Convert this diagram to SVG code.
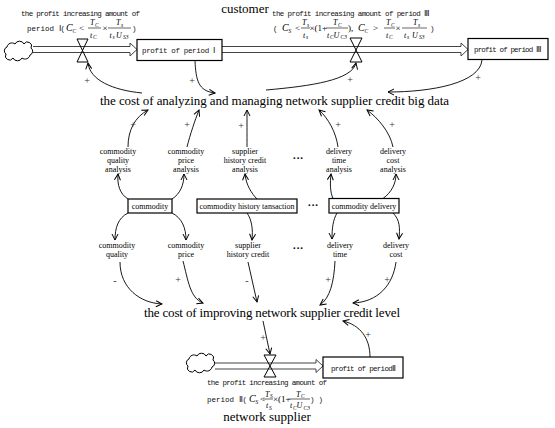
<svg xmlns="http://www.w3.org/2000/svg" width="555" height="428" viewBox="0 0 555 428">
<style>
.big{font-family:"Liberation Serif",serif;font-size:13px;fill:#000}
.lab{font-family:"Liberation Serif",serif;font-size:8px;fill:#000;text-anchor:middle}
.mono{font-family:"Liberation Mono","DejaVu Sans Mono",monospace;font-size:7.5px;fill:#111}
.mi{font-family:"Liberation Serif",serif;font-style:italic;font-size:10px;fill:#000}
.mf{font-family:"Liberation Serif",serif;font-style:italic;font-size:8px;fill:#000}
.ms{font-family:"Liberation Serif",serif;font-style:italic;font-size:5.5px;fill:#000}
.mo{font-family:"Liberation Serif",serif;font-size:9px;fill:#000}
.sign{font-family:"Liberation Serif",serif;font-size:10px;fill:#333;text-anchor:middle}
.dots{font-family:"Liberation Serif",serif;font-size:11px;font-weight:bold;fill:#000;text-anchor:middle}
.box{fill:#fff;stroke:#000;stroke-width:1.2}
.pipe{fill:none;stroke:#444;stroke-width:1}
.valve{fill:none;stroke:#000;stroke-width:1}
.cloud{fill:#fff;stroke:#000;stroke-width:1}
.bar{stroke:#000;stroke-width:0.6}
.conn path{fill:none;stroke:#000;stroke-width:0.9;marker-end:url(#ah)}
</style>
<defs>
<marker id="ah" markerWidth="8" markerHeight="8" refX="7" refY="4" orient="auto" markerUnits="userSpaceOnUse">
<path d="M1,1 L7,4 L1,7" fill="none" stroke="#000" stroke-width="1"/>
</marker>
<path id="cloudshape" d="M6,54 a4,4 0 0 1 1,-7 a5,5 0 0 1 8,-3 a5,5 0 0 1 9,0 a4,4 0 0 1 7,4 a4,4 0 0 1 -1,7 a5,5 0 0 1 -8,3 a5,5 0 0 1 -9,0 a4,4 0 0 1 -7,-4 z"/>
</defs>
<rect width="555" height="428" fill="#fff"/>

<g id="pipes">
<path class="pipe" d="M33,46.5 H130 M33,52.5 H130 M130,46.5 V43 L137,49.5 L130,56 V52.5"/>
<path class="pipe" d="M222,46.5 H461 M222,52.5 H461 M461,46.5 V43 L468,49.5 L461,56 V52.5"/>
<path class="pipe" d="M215,363 H316 M215,369 H316 M316,363 V359.5 L323,366 L316,372.5 V369"/>
</g>

<g id="cloud-top"><use href="#cloudshape" class="cloud"/></g>
<g id="cloud-bottom"><use href="#cloudshape" class="cloud" transform="translate(182,312)"/></g>

<g id="valve-1"><path class="valve" d="M77,39 H88 L82.5,50.5 Z M77,62 H88 L82.5,50.5 Z"/></g>
<g id="valve-3"><path class="valve" d="M350,38 H362 L356,50 Z M350,62 H362 L356,50 Z"/></g>
<g id="valve-2"><path class="valve" d="M264,355 H276 L270,366 Z M264,377 H276 L270,366 Z"/></g>

<g id="box-period1"><rect class="box" x="137" y="39.5" width="85" height="21"/><text class="mono" x="142" y="53" textLength="73">profit of period Ⅰ</text></g>
<g id="box-period3"><rect class="box" x="468" y="38.5" width="80" height="21"/><text class="mono" x="474" y="52" textLength="68">profit of period Ⅲ</text></g>
<g id="box-period2"><rect class="box" x="323" y="357" width="80" height="21"/><text class="mono" x="331" y="370.5" textLength="65">profit of periodⅡ</text></g>

<g id="customer"><text class="big" x="245" y="13" text-anchor="middle" font-size="12.5">customer</text></g>
<g id="network-supplier"><text class="big" x="267" y="421" text-anchor="middle" font-size="12">network supplier</text></g>

<g id="cost-analyzing"><text class="big" x="100" y="105" textLength="349">the cost of analyzing and managing network supplier credit big data</text></g>
<g id="cost-improving"><text class="big" x="144" y="317" textLength="256">the cost of improving network supplier credit level</text></g>

<g id="formula-1">
<text class="mono" x="21" y="16" textLength="119">the profit increasing amount of</text>
<text class="mono" x="27" y="31" textLength="38">period Ⅰ(</text>
<text class="mi" x="66" y="31">C</text><text class="ms" x="72.5" y="33">C</text>
<text class="mo" x="79" y="31">&lt;</text>
<text class="mf" x="90" y="25">T</text><text class="ms" x="95" y="26.5">C</text>
<line class="bar" x1="88" y1="28" x2="101" y2="28"/>
<text class="mf" x="90" y="37.5">t</text><text class="ms" x="93" y="39">C</text>
<text class="mo" x="102.5" y="31" font-size="8">×</text>
<text class="mf" x="116" y="25">T</text><text class="ms" x="121" y="26.5">s</text>
<line class="bar" x1="108" y1="28" x2="131" y2="28"/>
<text class="mf" x="109.5" y="37.5">t</text><text class="ms" x="112.5" y="39">s</text><text class="mf" x="116" y="37.5">U</text><text class="ms" x="123" y="39">S3</text>
<text class="mono" x="132" y="31">)</text>
</g>

<g id="formula-3">
<text class="mono" x="272" y="16" textLength="158">the profit increasing amount of period Ⅲ</text>
<text class="mono" x="273" y="31">(</text>
<text class="mi" x="282" y="31">C</text><text class="ms" x="288.5" y="33">S</text>
<text class="mo" x="295" y="31">&lt;</text>
<text class="mf" x="302" y="25">T</text><text class="ms" x="307" y="26.5">s</text>
<line class="bar" x1="301" y1="28" x2="310" y2="28"/>
<text class="mf" x="303" y="37.5">t</text><text class="ms" x="306" y="39">s</text>
<text class="mo" x="309.5" y="31">×(1+</text>
<text class="mf" x="333" y="25">T</text><text class="ms" x="338" y="26.5">C</text>
<line class="bar" x1="326" y1="28" x2="348" y2="28"/>
<text class="mf" x="327" y="37.5">t</text><text class="ms" x="330" y="39">C</text><text class="mf" x="333.5" y="37.5">U</text><text class="ms" x="340.5" y="39">C3</text>
<text class="mo" x="348" y="31">),</text>
<text class="mi" x="358" y="31">C</text><text class="ms" x="364.5" y="33">C</text>
<text class="mo" x="373" y="31">&gt;</text>
<text class="mf" x="386" y="25">T</text><text class="ms" x="391" y="26.5">C</text>
<line class="bar" x1="384" y1="28" x2="395" y2="28"/>
<text class="mf" x="386" y="37.5">t</text><text class="ms" x="389" y="39">C</text>
<text class="mo" x="395.5" y="31" font-size="8">×</text>
<text class="mf" x="413" y="25">T</text><text class="ms" x="418" y="26.5">s</text>
<line class="bar" x1="402" y1="28" x2="427" y2="28"/>
<text class="mf" x="404" y="37.5">t</text><text class="ms" x="407" y="39">s</text><text class="mf" x="412" y="37.5">U</text><text class="ms" x="419" y="39">S3</text>
<text class="mono" x="430" y="31">)</text>
</g>

<g id="formula-2">
<text class="mono" x="207" y="385" textLength="120">the profit increasing amount of</text>
<text class="mono" x="207" y="402" textLength="40">period Ⅱ(</text>
<text class="mi" x="249" y="402">C</text><text class="ms" x="255.5" y="404">S</text>
<text class="mo" x="260" y="402">&lt;</text>
<text class="mf" x="265" y="396.5">T</text><text class="ms" x="270" y="398">S</text>
<line class="bar" x1="263" y1="399" x2="273" y2="399"/>
<text class="mf" x="266" y="408">t</text><text class="ms" x="269" y="409.5">S</text>
<text class="mo" x="273" y="402">×(1+</text>
<text class="mf" x="296" y="396.5">T</text><text class="ms" x="301" y="398">C</text>
<line class="bar" x1="289" y1="399" x2="310" y2="399"/>
<text class="mf" x="290" y="408">t</text><text class="ms" x="293" y="409.5">C</text><text class="mf" x="296.5" y="408">U</text><text class="ms" x="303.5" y="409.5">C3</text>
<text class="mono" x="310" y="402" textLength="13">))</text>
</g>

<g id="commodity-quality-analysis"><text class="lab" x="118" y="154">commodity</text><text class="lab" x="118" y="163">quality</text><text class="lab" x="118" y="172">analysis</text></g>
<g id="commodity-price-analysis"><text class="lab" x="186" y="154">commodity</text><text class="lab" x="186" y="163">price</text><text class="lab" x="186" y="172">analysis</text></g>
<g id="supplier-history-credit-analysis"><text class="lab" x="245" y="154">supplier</text><text class="lab" x="245" y="163">history credit</text><text class="lab" x="245" y="172">analysis</text></g>
<g id="dots-1"><text class="dots" x="298" y="162">···</text></g>
<g id="delivery-time-analysis"><text class="lab" x="339" y="154">delivery</text><text class="lab" x="339" y="163">time</text><text class="lab" x="339" y="172">analysis</text></g>
<g id="delivery-cost-analysis"><text class="lab" x="393" y="154">delivery</text><text class="lab" x="393" y="163">cost</text><text class="lab" x="393" y="172">analysis</text></g>

<g id="box-commodity"><rect class="box" x="128" y="199" width="44" height="14"/><text class="lab" x="150" y="209">commodity</text></g>
<g id="box-history"><rect class="box" x="197" y="199" width="100" height="14"/><text class="lab" x="247" y="209">commodity history tansaction</text></g>
<g id="dots-2"><text class="dots" x="313" y="209">···</text></g>
<g id="box-delivery"><rect class="box" x="329" y="198.5" width="70" height="14.5"/><text class="lab" x="364" y="209">commodity delivery</text></g>

<g id="commodity-quality"><text class="lab" x="117" y="248">commodity</text><text class="lab" x="117" y="257">quality</text></g>
<g id="commodity-price"><text class="lab" x="186" y="248">commodity</text><text class="lab" x="186" y="257">price</text></g>
<g id="supplier-history-credit"><text class="lab" x="248" y="248">supplier</text><text class="lab" x="248" y="257">history credit</text></g>
<g id="dots-3"><text class="dots" x="298" y="252">···</text></g>
<g id="delivery-time"><text class="lab" x="340" y="248">delivery</text><text class="lab" x="340" y="257">time</text></g>
<g id="delivery-cost"><text class="lab" x="396" y="248">delivery</text><text class="lab" x="396" y="257">cost</text></g>

<g id="connectors" class="conn">
<path d="M142,93 C112,90 90,80 88,63"/>
<path d="M195,61 C196,80 198,91 215,93"/>
<path d="M266,90 C312,86 352,80 356,63"/>
<path d="M482,60 C480,83 432,92 388,92"/>
<path d="M128,147 C128,130 135,117 148,110"/>
<path d="M187,147 C190,135 195,120 199,110"/>
<path d="M247,147 C247,135 247,120 247,110"/>
<path d="M338,147 C336,132 328,118 319,110"/>
<path d="M393,147 C390,132 378,118 367,110"/>
<path d="M128,199 C120,194 117,185 118,174"/>
<path d="M172,199 C180,194 184,185 184,174"/>
<path d="M257,199 C252,194 246,185 245,174"/>
<path d="M333,198.5 C330,192 330,183 331,174"/>
<path d="M383,198.5 C392,192 396,183 396,174"/>
<path d="M128,213 C118,218 115,228 115,240"/>
<path d="M172,213 C182,218 186,228 186,240"/>
<path d="M247,213 C252,220 253,230 252,240"/>
<path d="M337,213 C333,220 332,228 332,239"/>
<path d="M393,213 C400,220 400,228 399,239"/>
<path d="M120,262 C120,288 140,303 162,304"/>
<path d="M183,261 C188,280 190,298 203,303"/>
<path d="M248,262 L257,302"/>
<path d="M335,261 C334,282 330,298 320,305"/>
<path d="M396,262 C393,285 378,302 353,303"/>
<path d="M263,321 L270,354"/>
<path d="M370,357 C370,338 360,325 343,321"/>
</g>

<g id="signs">
<text class="sign" x="87" y="84">+</text>
<text class="sign" x="192" y="84">+</text>
<text class="sign" x="350" y="83">+</text>
<text class="sign" x="478" y="81">+</text>
<text class="sign" x="133" y="128">+</text>
<text class="sign" x="187" y="128">+</text>
<text class="sign" x="241" y="129">+</text>
<text class="sign" x="338" y="128">+</text>
<text class="sign" x="392" y="128">+</text>
<text class="sign" x="115" y="284">-</text>
<text class="sign" x="178" y="283">+</text>
<text class="sign" x="247" y="284">-</text>
<text class="sign" x="328" y="283">+</text>
<text class="sign" x="387" y="283">+</text>
<text class="sign" x="263" y="341">+</text>
<text class="sign" x="368" y="338">+</text>
</g>
</svg>
